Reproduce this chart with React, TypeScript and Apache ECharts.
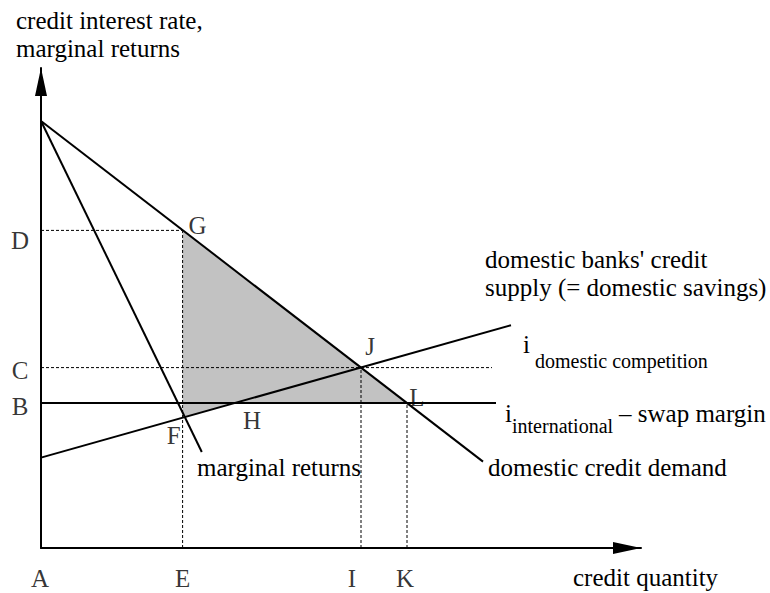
import React, { useEffect, useRef } from "react";
import * as echarts from "echarts";

const FONT = "Liberation Serif";

// value ranges of the two axes (abstract units)
const xRange = [0, 150];
const yRange = [0, 120];

// curves (x = credit quantity, y = interest rate)
const demandLine = [[0, 106.75], [110.5, 21.6]];
const supplyLine = [[0, 22.6], [117.5, 55.7]];
const marginalLine = [[0, 106.75], [40.2, 24]];
const swapLine = [[0, 36.25], [113.75, 36.25]];

// dashed guide lines
const competitionDash = [[0, 45.1], [112.75, 45.1]];
const dDash = [[0, 79.4], [35.4, 79.4]];
const eDash = [[35.4, 0], [35.4, 79.4]];
const iDash = [[80, 0], [80, 45.1]];
const kDash = [[91.5, 0], [91.5, 36.25]];

// shaded area G-F-H-L
const shadedArea = [[35.4, 79.4], [35.4, 32.55], [48.5, 36.25], [91.5, 36.25]];

// lettered points
const pointNames = ["A", "E", "I", "K", "D", "C", "B", "G", "J", "L", "H", "F"];
const pointX = [0, 35.4, 80, 91.5, 0, 0, 0, 35.4, 80, 91.5, 48.5, 35.4];
const pointY = [0, 0, 0, 0, 79.4, 45.1, 36.25, 79.4, 45.1, 36.25, 36.25, 32.55];

// label offsets (style only)
const labelOffsets = [
  [-1, 30], [0, 30], [-9, 30], [-2, 30],
  [-21, 10], [-21, 3], [-21, 3],
  [15, -5], [9, -21], [10, -6], [17, 17], [-9, 18],
];

const FS = 25;
const SUB = 20;

function txt(text: string, x: number, baseline: number, fs: number = FS) {
  return {
    type: "text",
    x,
    y: baseline - 0.3375 * fs,
    silent: true,
    style: {
      text,
      fill: "#000",
      fontFamily: FONT,
      fontSize: fs,
      align: "left",
      verticalAlign: "middle",
    },
  };
}

const solid = (data: number[][]) => ({
  type: "line",
  data,
  symbol: "none",
  silent: true,
  z: 4,
  lineStyle: { color: "#000", width: 2 },
});

const dashed = (data: number[][]) => ({
  type: "line",
  data,
  symbol: "none",
  silent: true,
  z: 3,
  lineStyle: { color: "#000", width: 1, type: [3, 2] },
});

const axisCommon = {
  type: "value",
  axisTick: { show: false },
  axisLabel: { show: false },
  splitLine: { show: false },
  axisLine: {
    show: true,
    symbol: ["none", "triangle"],
    symbolSize: [12, 28],
    symbolOffset: [0, -14],
    lineStyle: { color: "#000", width: 2 },
  },
};

export default function App() {
  const ref = useRef<HTMLDivElement>(null);
  useEffect(() => {
    if (!ref.current) return;
    const chart = echarts.init(ref.current, null, { renderer: "svg" });
    chart.setOption({
      animation: false,
      backgroundColor: "#fff",
      textStyle: { fontFamily: FONT },
      grid: { left: 41, top: 68, width: 600, height: 480, containLabel: false },
      xAxis: { ...axisCommon, min: xRange[0], max: xRange[1] },
      yAxis: { ...axisCommon, min: yRange[0], max: yRange[1] },
      series: [
        {
          type: "custom",
          coordinateSystem: "cartesian2d",
          data: [[0, 0]],
          silent: true,
          z: 1,
          renderItem: (_p: any, api: any) => ({
            type: "polygon",
            shape: { points: shadedArea.map((p) => api.coord(p)) },
            style: { fill: "#c2c2c2", stroke: "none" },
          }),
        },
        solid(demandLine),
        solid(supplyLine),
        solid(marginalLine),
        solid(swapLine),
        dashed(competitionDash),
        dashed(dDash),
        dashed(eDash),
        dashed(iDash),
        dashed(kDash),
        {
          type: "scatter",
          symbolSize: 0,
          silent: true,
          z: 5,
          data: pointNames.map((n, i) => ({
            name: n,
            value: [pointX[i], pointY[i]],
            label: { offset: labelOffsets[i] },
          })),
          label: {
            show: true,
            position: "inside",
            formatter: "{b}",
            color: "#000",
            fontFamily: FONT,
            fontSize: FS,
            align: "center",
            verticalAlign: "middle",
          },
        },
      ],
      graphic: [
        txt("credit interest rate,", 16, 29),
        txt("marginal returns", 16, 57),
        txt("domestic banks' credit", 485, 268),
        txt("supply (= domestic savings)", 485, 296),
        txt("i", 523, 353),
        txt("domestic competition", 535, 368, SUB),
        txt("i", 505, 422),
        txt("international", 512, 433, SUB),
        txt("– swap margin", 619, 422),
        txt("domestic credit demand", 488, 476),
        txt("marginal returns", 197, 476),
        txt("credit quantity", 573, 586),
      ],
    });
    return () => chart.dispose();
  }, []);
  return (
    <div
      ref={ref}
      style={{ position: "fixed", left: 0, top: 0, width: 770, height: 593, background: "#fff" }}
    />
  );
}
